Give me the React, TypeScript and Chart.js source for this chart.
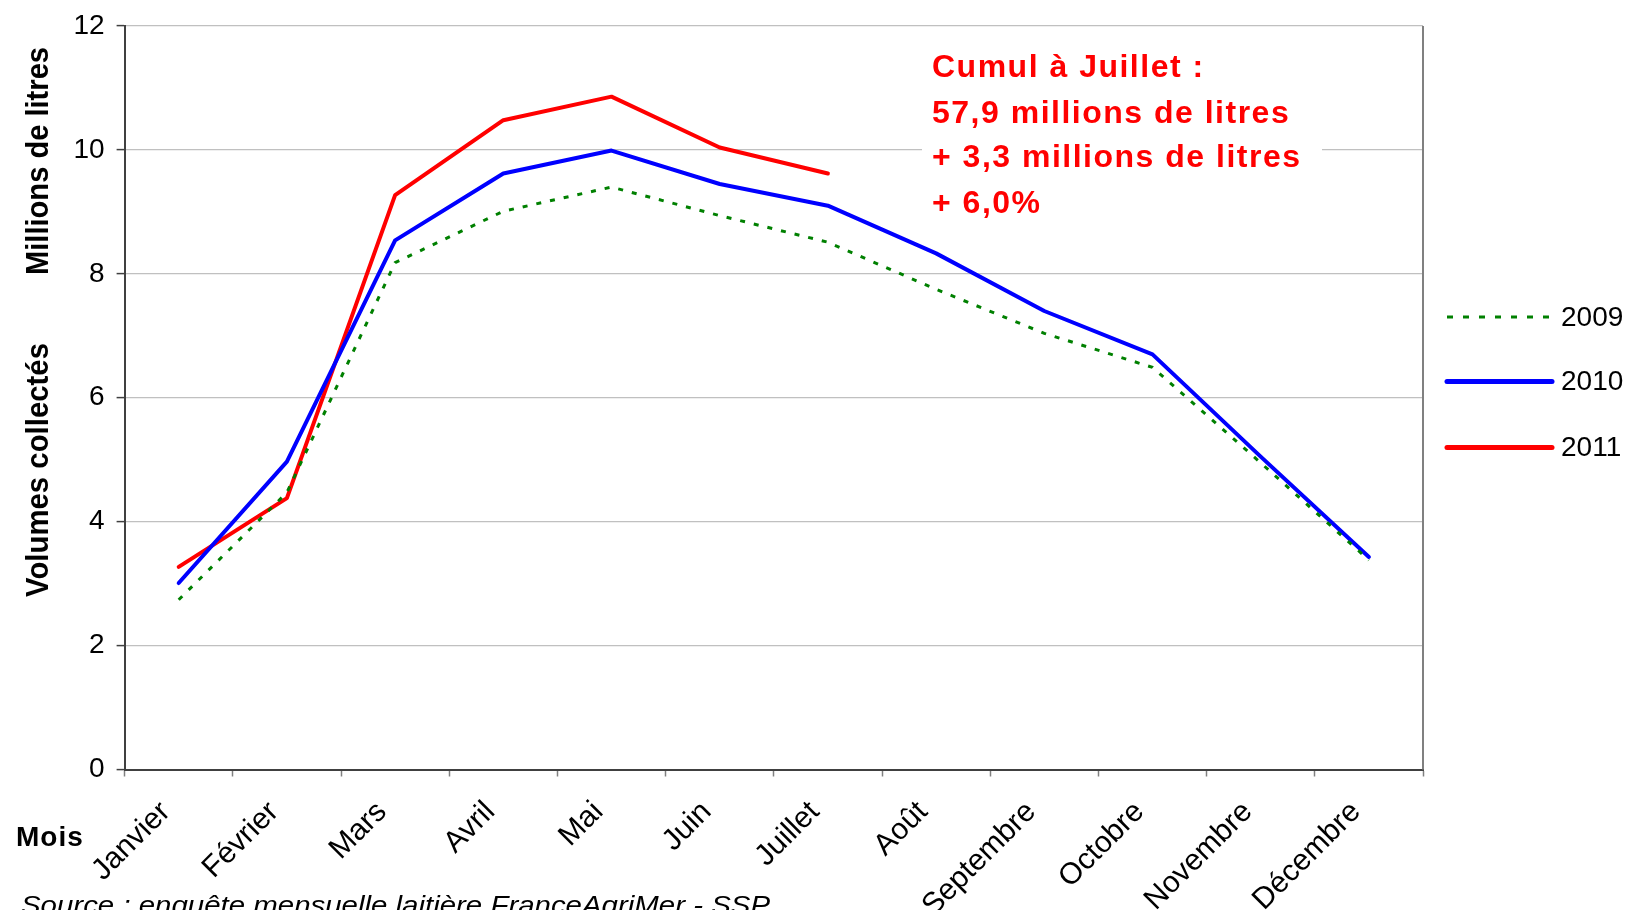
import React, { useEffect, useRef } from 'react';
import { Chart, registerables } from 'chart.js';

Chart.register(...registerables);

const months = ['Janvier', 'Février', 'Mars', 'Avril', 'Mai', 'Juin', 'Juillet', 'Août', 'Septembre', 'Octobre', 'Novembre', 'Décembre'];
const series2009 = [2.74, 4.47, 8.18, 9.01, 9.40, 8.94, 8.51, 7.75, 7.04, 6.49, 4.95, 3.38];
const series2010 = [3.01, 4.97, 8.54, 9.62, 9.99, 9.45, 9.10, 8.33, 7.40, 6.70, 5.05, 3.43];
const series2011 = [3.27, 4.38, 9.27, 10.48, 10.86, 10.04, 9.62, null, null, null, null, null];
const seriesNames = ['2009', '2010', '2011'];
const yMin = 0;
const yMax = 12;
const yStep = 2;
const annotationLines = ['Cumul à Juillet :', '57,9 millions de litres', '+ 3,3 millions de litres', '+ 6,0%'];
const yTitleTop = 'Millions de litres';
const yTitleBottom = 'Volumes collectés';
const xTitle = 'Mois';
const sourceText = 'Source : enquête mensuelle laitière FranceAgriMer - SSP';

const FONT = '"Liberation Sans", Arial, Helvetica, sans-serif';

function drawFit(ctx: CanvasRenderingContext2D, text: string, x: number, y: number, len: number, font: string, rot: number) {
  ctx.save();
  ctx.translate(x, y);
  ctx.rotate(rot);
  ctx.font = font;
  const w = ctx.measureText(text).width;
  ctx.scale(len / w, 1);
  ctx.textAlign = rot === 0 ? 'left' : 'center';
  ctx.textBaseline = 'alphabetic';
  ctx.fillStyle = '#000';
  ctx.fillText(text, 0, 0);
  ctx.restore();
}

const decorPlugin = {
  id: 'decor',
  afterDraw(chart: any) {
    const ctx: CanvasRenderingContext2D = chart.ctx;
    const a = chart.chartArea;
    ctx.save();
    // right border
    ctx.strokeStyle = '#808080';
    ctx.lineWidth = 2;
    ctx.beginPath();
    ctx.moveTo(a.right, a.top);
    ctx.lineTo(a.right, a.bottom);
    ctx.stroke();

    // annotation
    ctx.fillStyle = '#ffffff';
    ctx.fillRect(922, 44, 400, 180);
    ctx.fillStyle = '#ff0000';
    ctx.font = `bold 32px ${FONT}`;
    (ctx as any).letterSpacing = '1.5px';
    ctx.textAlign = 'left';
    ctx.textBaseline = 'alphabetic';
    const baselines = [77, 123, 167, 213];
    annotationLines.forEach((t, i) => ctx.fillText(t, 932, baselines[i]));
    (ctx as any).letterSpacing = '0px';

    // legend
    const legendY = [317, 381.5, 447.5];
    const styles = [
      { color: '#008000', width: 3, dash: [6, 10], cap: 'butt' },
      { color: '#0000ff', width: 5, dash: [], cap: 'round' },
      { color: '#ff0000', width: 5, dash: [], cap: 'round' },
    ];
    seriesNames.forEach((name, i) => {
      const s = styles[i];
      ctx.strokeStyle = s.color;
      ctx.lineWidth = s.width;
      ctx.lineCap = s.cap as CanvasLineCap;
      ctx.setLineDash(s.dash);
      ctx.beginPath();
      ctx.moveTo(1447, legendY[i]);
      ctx.lineTo(1552, legendY[i]);
      ctx.stroke();
      ctx.setLineDash([]);
      ctx.fillStyle = '#000';
      ctx.font = `28px ${FONT}`;
      ctx.textBaseline = 'middle';
      ctx.fillText(name, 1561, legendY[i] + 1);
    });

    // titles
    drawFit(ctx, yTitleTop, 48, 161, 228, `bold 32px ${FONT}`, -Math.PI / 2);
    drawFit(ctx, yTitleBottom, 48, 470, 254, `bold 32px ${FONT}`, -Math.PI / 2);
    ctx.fillStyle = '#000';
    ctx.font = `bold 28px ${FONT}`;
    (ctx as any).letterSpacing = '1px';
    ctx.textAlign = 'left';
    ctx.textBaseline = 'alphabetic';
    ctx.fillText(xTitle, 16, 846);
    (ctx as any).letterSpacing = '0px';
    ctx.save();
    ctx.font = `italic 26px ${FONT}`;
    const w = ctx.measureText(sourceText).width;
    ctx.translate(21, 914);
    ctx.scale(749 / w, 1);
    ctx.fillText(sourceText, 0, 0);
    ctx.restore();
    ctx.restore();
  },
};

export default function App() {
  const ref = useRef<HTMLCanvasElement | null>(null);
  useEffect(() => {
    document.body.style.margin = '0';
    const canvas = ref.current!;
    const chart = new Chart(canvas, {
      type: 'line',
      data: {
        labels: months,
        datasets: [
          {
            label: seriesNames[0],
            data: series2009,
            borderColor: '#008000',
            borderWidth: 3,
            borderDash: [5, 9],
            pointRadius: 0,
            tension: 0,
            fill: false,
          },
          {
            label: seriesNames[1],
            data: series2010,
            borderColor: '#0000ff',
            borderWidth: 4,
            borderCapStyle: 'round',
            borderJoinStyle: 'round',
            pointRadius: 0,
            tension: 0,
            fill: false,
          },
          {
            label: seriesNames[2],
            data: series2011,
            borderColor: '#ff0000',
            borderWidth: 4,
            borderCapStyle: 'round',
            borderJoinStyle: 'round',
            pointRadius: 0,
            tension: 0,
            fill: false,
            spanGaps: false,
          },
        ],
      },
      options: {
        responsive: false,
        animation: false,
        devicePixelRatio: 1,
        layout: { padding: { left: 0, top: 26, right: 205, bottom: 0 } },
        plugins: { legend: { display: false }, tooltip: { enabled: false } },
        scales: {
          x: {
            type: 'category',
            offset: true,
            afterFit: (s: any) => { s.height = 140.5; s.paddingLeft = 0; s.paddingRight = 0; },
            grid: { offset: true, drawOnChartArea: false, tickLength: 7, tickColor: '#808080', tickWidth: 1.5 },
            border: { display: true, color: '#404040', width: 2 },
            ticks: {
              font: { family: FONT, size: 30 },
              color: '#000',
              minRotation: 45,
              maxRotation: 45,
              padding: 18,
              labelOffset: -13,
              autoSkip: false,
            },
          },
          y: {
            min: yMin,
            max: yMax,
            afterFit: (s: any) => { s.width = 124.6; s.paddingTop = 0; s.paddingBottom = 0; },
            grid: { color: '#c0c0c0', lineWidth: 1.2, tickLength: 8, tickColor: '#404040', tickWidth: 1.5 },
            border: { display: true, color: '#404040', width: 2 },
            ticks: {
              stepSize: yStep,
              font: { family: FONT, size: 28 },
              color: '#000',
              padding: 12,
            },
          },
        },
      },
      plugins: [decorPlugin],
    });
    return () => chart.destroy();
  }, []);
  return <canvas ref={ref} width={1628} height={910} style={{ display: 'block', width: '1628px', height: '910px' }} />;
}
